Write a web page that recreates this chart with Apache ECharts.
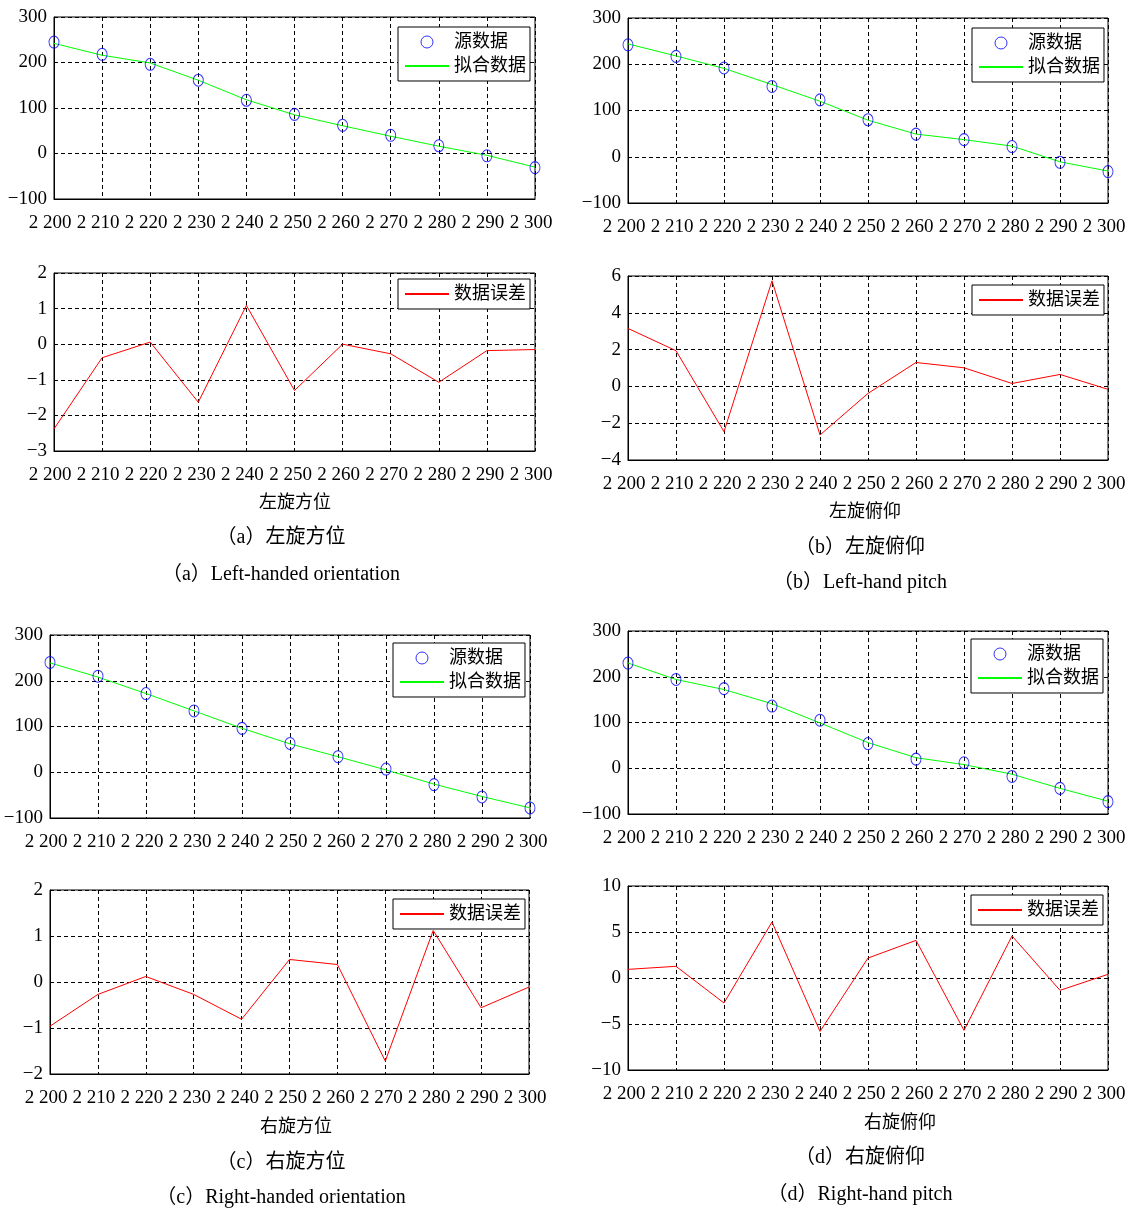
<!DOCTYPE html>
<html>
<head>
<meta charset="utf-8">
<script src="https://cdn.jsdelivr.net/npm/echarts@6/dist/echarts.min.js"></script>
<style>
html,body{margin:0;padding:0;background:#fff;}
#chart{width:1139px;height:1210px;}
</style>
</head>
<body>
<div id="chart"></div>
<script>
// ---- data ----
const xVals = [2200, 2210, 2220, 2230, 2240, 2250, 2260, 2270, 2280, 2290, 2300];

const aSrc = [245, 218, 196, 161, 117, 86, 62, 40, 17, -5, -31];
const aFit = [242, 216, 199, 161, 118, 85, 61, 38, 16, -4, -30];
const aErr = [-2.38, -0.38, 0.06, -1.63, 1.09, -1.30, 0.0, -0.27, -1.07, -0.18, -0.15];

const bSrc = [242, 217, 192, 152, 123, 80, 49, 37, 22, -12, -32];
const bFit = [244, 218, 191, 156, 120, 79, 49, 37, 23, -11, -31];
const bErr = [3.15, 1.94, -2.46, 5.74, -2.64, -0.38, 1.30, 1.01, 0.16, 0.65, -0.16];

const cSrc = [240, 210, 172, 134, 96, 63, 34, 7, -27, -54, -78];
const cFit = [239, 208, 172, 134, 96, 62, 34, 5, -26, -53, -78];
const cErr = [-0.96, -0.27, 0.12, -0.27, -0.81, 0.49, 0.38, -1.72, 1.12, -0.56, -0.11];

const dSrc = [230, 194, 174, 136, 105, 54, 20, 12, -18, -44, -73];
const dFit = [230, 194, 172, 141, 99, 56, 23, 8, -13, -44, -72];
const dErr = [0.94, 1.27, -2.72, 6.09, -5.80, 2.17, 4.09, -5.69, 4.57, -1.34, 0.40];

const fitRange = {min: -100, max: 300, interval: 100};
const aErrRange = {min: -3, max: 2, interval: 1};
const bErrRange = {min: -4, max: 6, interval: 2};
const cErrRange = {min: -2, max: 2, interval: 1};
const dErrRange = {min: -10, max: 10, interval: 5};

const srcName = '源数据';
const fitName = '拟合数据';
const errName = '数据误差';

const xNames = ['左旋方位', '左旋俯仰', '右旋方位', '右旋俯仰'];
const capCn = ['（a）左旋方位', '（b）左旋俯仰', '（c）右旋方位', '（d）右旋俯仰'];
const capEn = ['（a）Left-handed orientation', '（b）Left-hand pitch', '（c）Right-handed orientation', '（d）Right-hand pitch'];

// ---- layout ----
const FONT = "'Liberation Serif','Times New Roman','Noto Sans CJK SC',serif";
const panels = [
  {src: aSrc, fit: aFit, err: aErr, er: aErrRange,
   g1: {left: 54, top: 17, width: 481, height: 182}, g2: {left: 54, top: 273, width: 481, height: 178},
   l1: [398, 27], l2: [398, 279], nameXY: [295, 503], capY: [538, 575], capX: 281},
  {src: bSrc, fit: bFit, err: bErr, er: bErrRange,
   g1: {left: 628, top: 18, width: 480, height: 185}, g2: {left: 628, top: 276, width: 480, height: 184},
   l1: [972, 28], l2: [972, 285], nameXY: [865, 512], capY: [548, 583], capX: 860},
  {src: cSrc, fit: cFit, err: cErr, er: cErrRange,
   g1: {left: 50, top: 635, width: 480, height: 183}, g2: {left: 50, top: 890, width: 479, height: 184},
   l1: [393, 643], l2: [393, 899], nameXY: [296, 1127], capY: [1163, 1198], capX: 281},
  {src: dSrc, fit: dFit, err: dErr, er: dErrRange,
   g1: {left: 628, top: 631, width: 480, height: 183}, g2: {left: 628, top: 886, width: 480, height: 184},
   l1: [971, 639], l2: [971, 895], nameXY: [900, 1123], capY: [1158, 1195], capX: 860}
];

const pair = arr => xVals.map((x, i) => [x, arr[i]]);
const grids = [], xAxes = [], yAxes = [], series = [], legends = [], graphics = [];

const gridLine = {show: true, lineStyle: {color: '#000', width: 1, type: [4, 3]}};
function addAxes(idx, range) {
  xAxes.push({
    type: 'value', gridIndex: idx, min: 2200, max: 2300, interval: 10,
    axisLine: {show: true, onZero: false, lineStyle: {color: '#000', width: 1}},
    axisTick: {show: false},
    axisLabel: {color: '#000', fontFamily: FONT, fontSize: 19, margin: 15, padding: [0, 8, 0, 0],
      formatter: v => String(v).replace(/\B(?=(\d{3})+(?!\d))/g, ' ')},
    splitLine: gridLine
  });
  yAxes.push({
    type: 'value', gridIndex: idx, min: range.min, max: range.max, interval: range.interval,
    axisLine: {show: true, onZero: false, lineStyle: {color: '#000', width: 1}},
    axisTick: {show: false},
    axisLabel: {color: '#000', fontFamily: FONT, fontSize: 19, margin: 7,
      formatter: v => String(v).replace('-', '−')},
    splitLine: gridLine
  });
}
const legendBase = {
  orient: 'vertical', selectedMode: false,
  backgroundColor: '#fff', borderColor: '#000', borderWidth: 1, borderRadius: 0,
  padding: [6, 4, 6, 6], itemGap: 6, itemWidth: 44, itemHeight: 12,
  textStyle: {fontFamily: FONT, fontSize: 18, color: '#000'}
};

panels.forEach((p, k) => {
  const i1 = grids.length;
  grids.push(Object.assign({show: true, borderColor: '#000', borderWidth: 1, backgroundColor: '#fff', containLabel: false}, p.g1));
  addAxes(i1, fitRange);
  series.push({
    type: 'line', name: fitName, xAxisIndex: i1, yAxisIndex: i1, data: pair(p.fit),
    symbol: 'none', lineStyle: {color: '#00ff00', width: 1}, itemStyle: {color: '#00ff00'}, animation: false, z: 3
  });
  series.push({
    type: 'scatter', name: srcName, xAxisIndex: i1, yAxisIndex: i1, data: pair(p.src),
    symbol: 'circle', symbolSize: [10, 12],
    itemStyle: {color: 'rgba(0,0,0,0)', borderColor: '#0000ff', borderWidth: 1}, animation: false, z: 4
  });
  legends.push(Object.assign({}, legendBase, {
    left: p.l1[0], top: p.l1[1],
    data: [
      {name: srcName, icon: 'circle', itemStyle: {color: 'rgba(0,0,0,0)', borderColor: '#0000ff', borderWidth: 1}},
      {name: fitName, itemStyle: {opacity: 0}}
    ]
  }));

  const i2 = grids.length;
  grids.push(Object.assign({show: true, borderColor: '#000', borderWidth: 1, backgroundColor: '#fff', containLabel: false}, p.g2));
  addAxes(i2, p.er);
  series.push({
    type: 'line', name: errName, xAxisIndex: i2, yAxisIndex: i2, data: pair(p.err),
    symbol: 'none', lineStyle: {color: '#ff0000', width: 1}, itemStyle: {color: '#ff0000'}, animation: false, z: 3
  });
  legends.push(Object.assign({}, legendBase, {
    left: p.l2[0], top: p.l2[1], data: [{name: errName, itemStyle: {opacity: 0}}]
  }));

  graphics.push({type: 'text', x: p.nameXY[0], y: p.nameXY[1],
    style: {text: xNames[k], font: "18px " + FONT, fill: '#000', textAlign: 'center', textVerticalAlign: 'middle'}});
  graphics.push({type: 'text', x: p.capX, y: p.capY[0],
    style: {text: capCn[k], font: "20px " + FONT, fill: '#000', textAlign: 'center', textVerticalAlign: 'middle'}});
  graphics.push({type: 'text', x: p.capX, y: p.capY[1],
    style: {text: capEn[k], font: "20px " + FONT, fill: '#000', textAlign: 'center', textVerticalAlign: 'middle'}});
});

const chart = echarts.init(document.getElementById('chart'), null, {renderer: 'canvas'});
chart.setOption({
  backgroundColor: '#fff',
  animation: false,
  grid: grids, xAxis: xAxes, yAxis: yAxes, series: series, legend: legends,
  graphic: graphics
});
</script>
</body>
</html>
